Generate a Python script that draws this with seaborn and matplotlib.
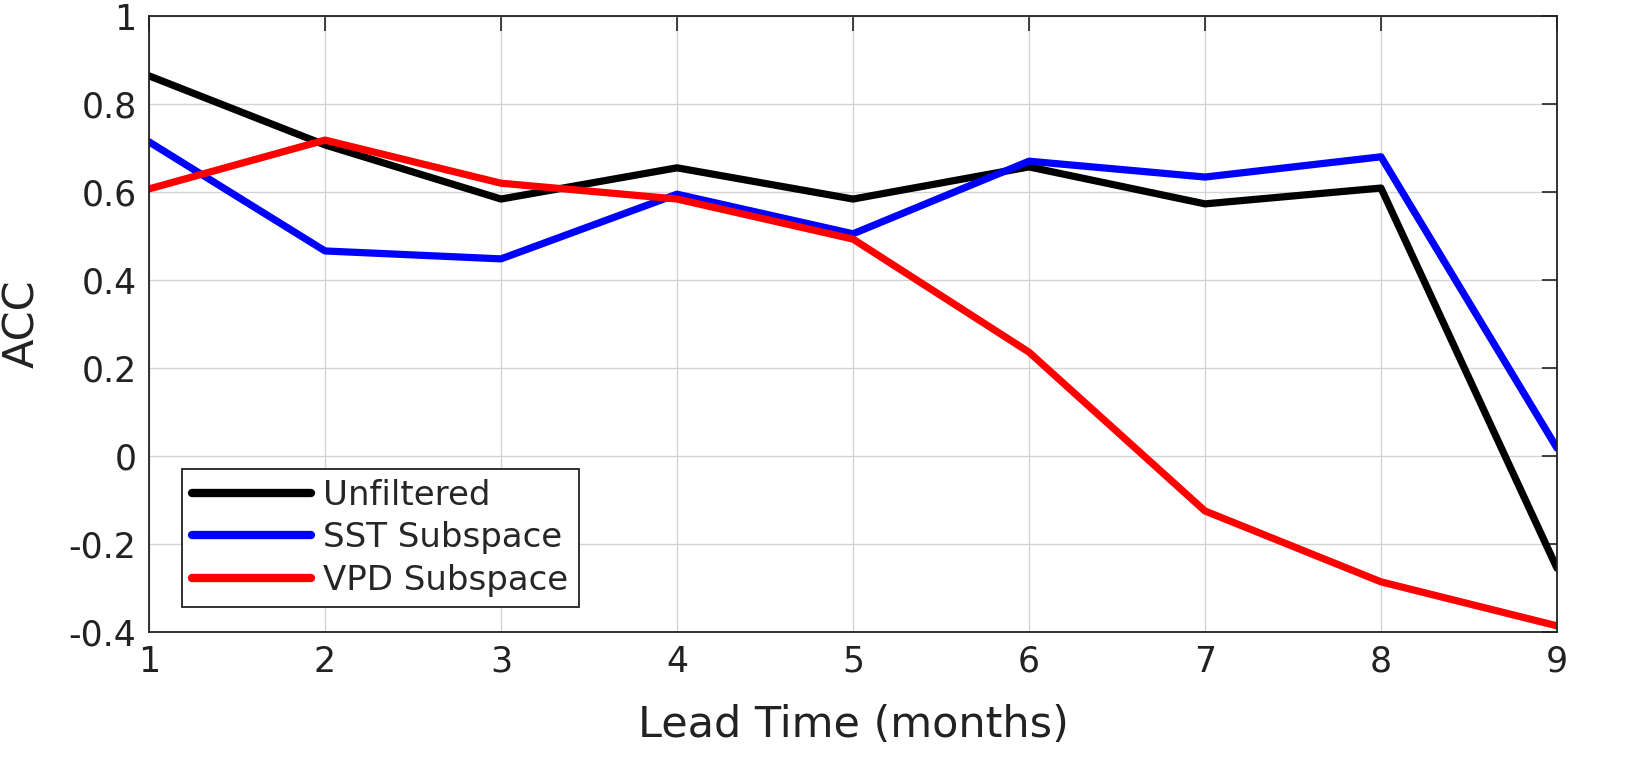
import matplotlib
matplotlib.use("Agg")
import matplotlib.pyplot as plt
import matplotlib.ticker as mticker
import seaborn as sns
import pandas as pd

# data
lead_time = [1, 2, 3, 4, 5, 6, 7, 8, 9]
unfiltered = [0.864, 0.707, 0.584, 0.655, 0.584, 0.657, 0.573, 0.609, -0.255]
sst_subspace = [0.714, 0.466, 0.448, 0.595, 0.505, 0.670, 0.634, 0.680, 0.018]
vpd_subspace = [0.607, 0.718, 0.620, 0.584, 0.493, 0.236, -0.125, -0.286, -0.386]

series_names = ["Unfiltered", "SST Subspace", "VPD Subspace"]
colors = ["black", "blue", "red"]

df = pd.DataFrame({
    "lead": lead_time * 3,
    "acc": unfiltered + sst_subspace + vpd_subspace,
    "series": [n for n in series_names for _ in lead_time],
})

sns.set_style("white")
plt.rcParams['font.family'] = ['DejaVu Sans']

fig = plt.figure(figsize=(16.31, 7.77), dpi=100)
ax = fig.add_axes([149/1631, 1 - 632/777, (1557-149)/1631, (632-16)/777])

sns.lineplot(data=df, x="lead", y="acc", hue="series", hue_order=series_names,
             palette=colors, linewidth=5.2, ax=ax)

ax.set_xlim(1, 9)
ax.set_ylim(-0.4, 1)
ax.set_xticks(lead_time)
ax.set_yticks([-0.4, -0.2, 0, 0.2, 0.4, 0.6, 0.8, 1])
ax.yaxis.set_major_formatter(mticker.FuncFormatter(lambda v, p: f"{v:g}".replace("\u2212", "-")))
ax.grid(True, color="#d4d4d4", linewidth=1.0)
ax.tick_params(direction="in", length=11, width=1.2, labelsize=25, colors="#222222",
               top=True, right=True, pad=9)
for s in ax.spines.values():
    s.set_visible(True)
    s.set_color("#222222")
    s.set_linewidth(1.3)

ax.set_xlabel("Lead Time (months)", fontsize=31, color="#222222", labelpad=18)
ax.set_ylabel("ACC", fontsize=31, color="#222222", labelpad=18)

leg = ax.legend(loc="lower left", bbox_to_anchor=(33/1408, 25/616), fontsize=24.5,
                handlelength=3.5, handletextpad=0.35, borderpad=0.3, labelspacing=0.28,
                borderaxespad=0, fancybox=False, framealpha=1, edgecolor="#222222")
leg.get_frame().set_linewidth(1.3)
for line in leg.get_lines():
    line.set_linewidth(6)

fig.savefig("out.png", dpi=100)
